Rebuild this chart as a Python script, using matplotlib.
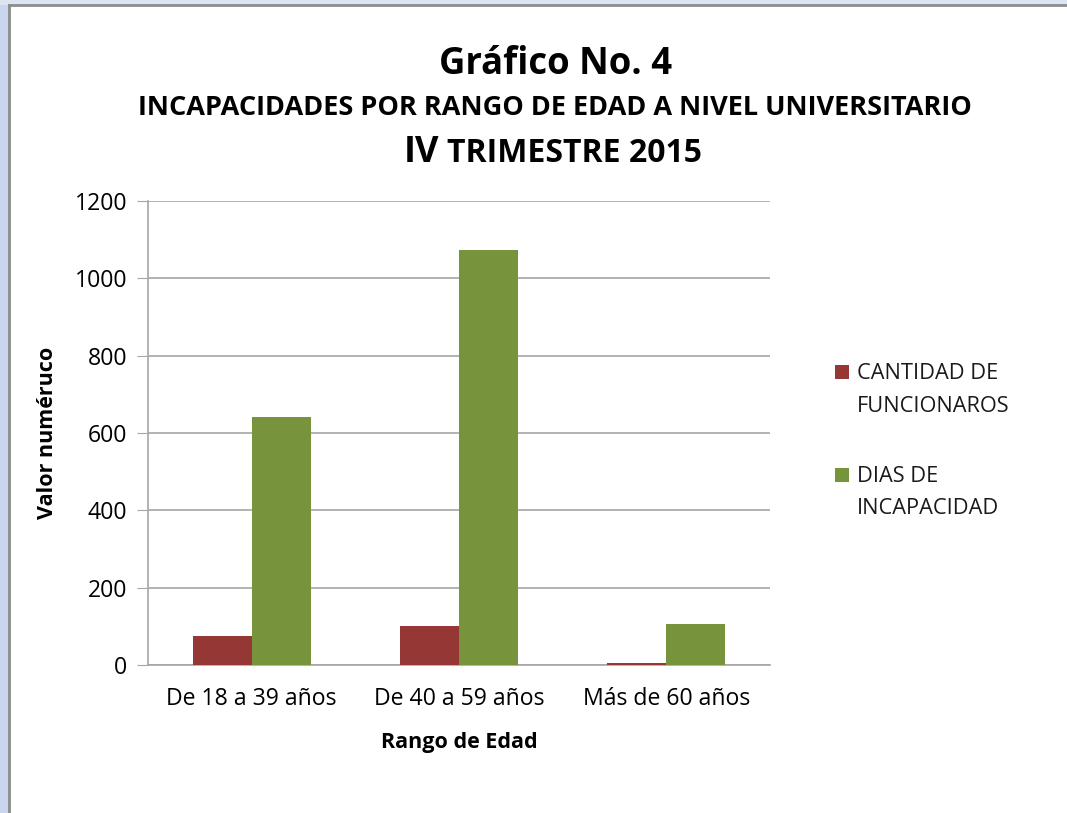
import numpy as np
import matplotlib
matplotlib.use("Agg")
import matplotlib.pyplot as plt
from matplotlib.patches import Rectangle

plt.rcParams['font.family'] = ['Open Sans', 'DejaVu Sans']

# ── data ────────────────────────────────────────────────
categorias = ["De 18 a 39 años", "De 40 a 59 años", "Más de 60 años"]
funcionarios = [75, 101, 5]
dias_incapacidad = [642, 1074, 107]
series_labels = ["CANTIDAD DE\nFUNCIONAROS", "DIAS DE\nINCAPACIDAD"]
colores = ["#953735", "#77933C"]

fig = plt.figure(figsize=(10.67, 8.13), dpi=100)

# slide background strip + chart frame
fig.patches.append(Rectangle((0, 0), 0.008, 1, transform=fig.transFigure,
                             facecolor="#C9D6EE", edgecolor="none", zorder=0))
fig.patches.append(Rectangle((0, 0.994), 1, 0.006, transform=fig.transFigure,
                             facecolor="#DCE3F2", edgecolor="none", zorder=0))
fig.add_artist(plt.Line2D([0.0085, 0.0085], [0, 0.994], transform=fig.transFigure,
                          color="#8C8C8C", lw=2))
fig.add_artist(plt.Line2D([0.0085, 1], [0.994, 0.994], transform=fig.transFigure,
                          color="#8C8C8C", lw=2))

ax = fig.add_axes([0.1387, 0.182, 0.583, 0.5708])

x = np.arange(len(categorias))
w = 0.285
ax.bar(x - w / 2, funcionarios, w, color=colores[0], zorder=3)
ax.bar(x + w / 2, dias_incapacidad, w, color=colores[1], zorder=3)

ax.set_xlim(-0.5, len(categorias) - 0.5)
ax.set_ylim(0, 1200)
ax.set_yticks(np.arange(0, 1201, 200))
ax.set_xticks(x)
ax.set_xticklabels(categorias)
ax.yaxis.grid(True, color="#A6A6A6", lw=1.2, zorder=0)
ax.set_axisbelow(True)

for s in ["top", "right"]:
    ax.spines[s].set_visible(False)
for s in ["left", "bottom"]:
    ax.spines[s].set_color("#A6A6A6")
    ax.spines[s].set_linewidth(1.2)
ax.tick_params(axis="y", length=8, color="#A6A6A6", labelsize=16.6, pad=7)
ax.tick_params(axis="x", length=0, labelsize=16.6, pad=16)

ax.set_ylabel("Valor numéruco", fontsize=15.5, fontweight="bold", labelpad=12)
ax.set_xlabel("Rango de Edad", fontsize=15.5, fontweight="bold", labelpad=15)

# titles
fig.text(0.521, 0.921, "Gráfico No. 4", ha="center", va="center",
         fontsize=26.3, fontweight="bold")
fig.text(0.520, 0.867, "INCAPACIDADES POR RANGO DE EDAD A NIVEL UNIVERSITARIO",
         ha="center", va="center", fontsize=19.5, fontweight="bold")
fig.text(0.4114, 0.8007, "IV", ha="right", va="baseline", fontsize=26, fontweight="bold")
fig.text(0.419, 0.8007, "TRIMESTRE 2015", ha="left", va="baseline",
         fontsize=23, fontweight="bold")

# legend, drawn by hand: square next to first line, one text per line
leg_base = [0.5334, 0.4075]
line_step = 32.5 / 813
for lab, col, yb in zip(series_labels, colores, leg_base):
    fig.patches.append(Rectangle((0.7826, yb), 0.0131, 0.0172, transform=fig.transFigure,
                                 facecolor=col, edgecolor="none"))
    for i, linea in enumerate(lab.split("\n")):
        fig.text(0.803, yb - i * line_step, linea, ha="left", va="baseline",
                 fontsize=15.7, color="#1a1a1a")

plt.savefig("out.png", dpi=100)
